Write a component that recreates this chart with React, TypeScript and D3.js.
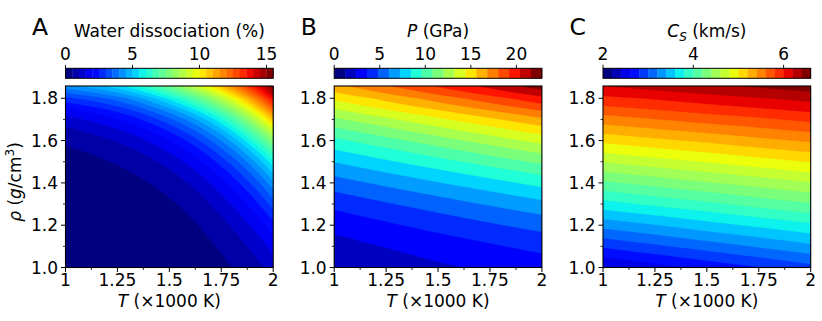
import React from 'react';
import * as d3 from 'd3';

// ---- data ----
const T_GRID = [1.0, 1.25, 1.5, 1.75, 2.0]; // ×1000 K
const RHO_GRID = [1.0, 1.1, 1.2, 1.3, 1.4, 1.5, 1.6, 1.7, 1.8, 1.86]; // g/cm3

// Water dissociation (%) rows = rho, cols = T
const WATER = [
  [0.0059, 0.0232, 0.0916, 0.388, 1.23],
  [0.0128, 0.0438, 0.153, 0.572, 1.7],
  [0.0277, 0.0827, 0.256, 0.845, 2.35],
  [0.0599, 0.156, 0.429, 1.249, 3.25],
  [0.129, 0.295, 0.718, 1.844, 4.4],
  [0.279, 0.556, 1.202, 2.72, 5.9],
  [0.604, 1.049, 2.01, 4.02, 8.0],
  [1.3, 1.98, 3.37, 5.94, 10.8],
  [2.82, 3.74, 5.64, 8.78, 13.8],
  [4.4, 5.4, 7.6, 11.0, 15.5],
];

// Pressure (GPa)
const PRESSURE = [
  [1.4, 1.8, 2.2, 2.6, 3.0],
  [1.95, 2.45, 2.95, 3.45, 3.95],
  [2.8, 3.41, 4.03, 4.64, 5.25],
  [3.95, 4.68, 5.4, 6.13, 6.85],
  [5.45, 6.29, 7.13, 7.96, 8.8],
  [7.25, 8.2, 9.15, 10.1, 11.05],
  [9.3, 10.38, 11.45, 12.53, 13.6],
  [11.75, 12.95, 14.15, 15.35, 16.55],
  [14.6, 15.95, 17.3, 18.65, 20.0],
  [16.5, 17.95, 19.4, 20.85, 22.3],
];

// Sound speed Cs (km/s)
const SOUND = [
  [2.38, 2.52, 2.66, 2.79, 2.93],
  [2.83, 2.96, 3.09, 3.22, 3.35],
  [3.27, 3.39, 3.52, 3.64, 3.76],
  [3.72, 3.84, 3.95, 4.07, 4.18],
  [4.16, 4.27, 4.38, 4.48, 4.59],
  [4.61, 4.71, 4.81, 4.91, 5.01],
  [5.05, 5.15, 5.24, 5.34, 5.43],
  [5.5, 5.59, 5.68, 5.76, 5.85],
  [5.94, 6.02, 6.1, 6.18, 6.26],
  [6.21, 6.29, 6.36, 6.44, 6.51],
];

const X_TICKS = [1, 1.25, 1.5, 1.75, 2];
const X_TICK_LABELS = ['1', '1.25', '1.5', '1.75', '2'];
const X_MINOR = [1.125, 1.375, 1.625, 1.875];
const Y_TICKS = [1.0, 1.2, 1.4, 1.6, 1.8];
const Y_TICK_LABELS = ['1.0', '1.2', '1.4', '1.6', '1.8'];
const Y_MINOR = [1.1, 1.3, 1.5, 1.7];

const WATER_CB_TICKS = [0, 5, 10, 15];
const PRESSURE_CB_TICKS = [0, 5, 10, 15, 20];
const SOUND_CB_TICKS = [2, 4, 6];

// ---- layout ----
const FONT = 'DejaVu Sans, sans-serif';
const PLOT_TOP = 86;
const PLOT_H = 181.5;
const PLOT_W = 207.7;
const PANEL_X = [65.5, 334.2, 603];
const T_MIN = 1, T_MAX = 2, RHO_MIN = 1.0, RHO_MAX = 1.858;
const NX = 208, NY = 182;

function jet(x: number): string {
  const c = (v: number) => Math.max(0, Math.min(1, v));
  let r, g, b;
  if (x < 0.35) r = 0; else if (x < 0.66) r = (x - 0.35) / 0.31; else if (x < 0.89) r = 1; else r = 1 - 0.5 * (x - 0.89) / 0.11;
  if (x < 0.125) g = 0; else if (x < 0.375) g = (x - 0.125) / 0.25; else if (x < 0.64) g = 1; else if (x < 0.91) g = 1 - (x - 0.64) / 0.27; else g = 0;
  if (x < 0.11) b = 0.5 + 0.5 * x / 0.11; else if (x < 0.34) b = 1; else if (x < 0.65) b = 1 - (x - 0.34) / 0.31; else b = 0;
  return d3.rgb(c(r) * 255, c(g) * 255, c(b) * 255).formatHex();
}

function cr(p0: number, p1: number, p2: number, p3: number, t: number) {
  return 0.5 * (2 * p1 + (-p0 + p2) * t + (2 * p0 - 5 * p1 + 4 * p2 - p3) * t * t + (-p0 + 3 * p1 - 3 * p2 + p3) * t * t * t);
}
function locate(arr: number[], v: number): [number, number] {
  let i = 0;
  while (i < arr.length - 2 && v > arr[i + 1]) i++;
  return [i, (v - arr[i]) / (arr[i + 1] - arr[i])];
}
function sample(g: number[][], i: number, j: number): number {
  const nr = g.length, nc = g[0].length;
  const get = (r: number, c: number): number => {
    if (r < 0) return 2 * get(0, c) - get(1, c);
    if (r >= nr) return 2 * get(nr - 1, c) - get(nr - 2, c);
    if (c < 0) return 2 * get(r, 0) - get(r, 1);
    if (c >= nc) return 2 * get(r, nc - 1) - get(r, nc - 2);
    return g[r][c];
  };
  return get(i, j);
}
function interp(g: number[][], T: number, rho: number): number {
  const [ci, ct] = locate(T_GRID, T);
  const [ri, rt] = locate(RHO_GRID, rho);
  const rows: number[] = [];
  for (let dr = -1; dr <= 2; dr++) {
    const r = ri + dr;
    rows.push(cr(sample(g, r, ci - 1), sample(g, r, ci), sample(g, r, ci + 1), sample(g, r, ci + 2), ct));
  }
  return cr(rows[0], rows[1], rows[2], rows[3], rt);
}

interface PanelDef {
  letter: string;
  grid: number[][];
  log: boolean;
  lmin: number;
  step: number;
  n: number;
  cbTicks: number[];
  title: React.ReactNode;
}

const PANELS: PanelDef[] = [
  {
    letter: 'A', grid: WATER, log: true, lmin: 0, step: 0.5, n: 31, cbTicks: WATER_CB_TICKS,
    title: <tspan>Water dissociation (%)</tspan>,
  },
  {
    letter: 'B', grid: PRESSURE, log: false, lmin: 0, step: 1.2, n: 19, cbTicks: PRESSURE_CB_TICKS,
    title: <><tspan fontStyle="italic">P</tspan><tspan> (GPa)</tspan></>,
  },
  {
    letter: 'C', grid: SOUND, log: false, lmin: 2.0, step: 0.2, n: 23, cbTicks: SOUND_CB_TICKS,
    title: <><tspan fontStyle="italic">C</tspan><tspan fontStyle="italic" fontSize={12} dy={4}>S</tspan><tspan dy={-4}> (km/s)</tspan></>,
  },
];

function Panel({ def, x0, idx }: { def: PanelDef; x0: number; idx: number }) {
  const xs = d3.scaleLinear().domain([T_MIN, T_MAX]).range([x0, x0 + PLOT_W]);
  const ys = d3.scaleLinear().domain([RHO_MIN, RHO_MAX]).range([PLOT_TOP + PLOT_H, PLOT_TOP]);
  const lmax = def.lmin + def.step * def.n;
  const colors = d3.range(def.n).map((k) => jet(k / (def.n - 1)));

  const lg = def.log ? def.grid.map((r) => r.map((v) => Math.log(Math.max(v, 1e-4)))) : def.grid;
  const values = new Array(NX * NY);
  for (let j = 0; j < NY; j++) {
    const rho = RHO_MAX - ((j + 0.5) / NY) * (RHO_MAX - RHO_MIN);
    for (let i = 0; i < NX; i++) {
      const T = T_MIN + ((i + 0.5) / NX) * (T_MAX - T_MIN);
      const v = interp(lg, T, rho);
      values[i + j * NX] = def.log ? Math.exp(v) : v;
    }
  }
  const thresholds = d3.range(1, def.n).map((k) => def.lmin + k * def.step);
  const contours = d3.contours().size([NX, NY]).thresholds(thresholds)(values);
  const path = d3.geoPath();
  const sx = PLOT_W / NX, sy = PLOT_H / NY;

  const cb = d3.scaleLinear().domain([def.lmin, lmax]).range([x0, x0 + PLOT_W]);
  const cbTop = 68.3, cbH = 10;
  const clipId = `clip${idx}`;
  const cx = x0 + PLOT_W / 2;

  return (
    <g>
      <defs>
        <clipPath id={clipId}>
          <rect x={x0} y={PLOT_TOP} width={PLOT_W} height={PLOT_H} />
        </clipPath>
      </defs>
      <text x={x0 - 33.5} y={35} fontSize={23.5} fontFamily={FONT}>{def.letter}</text>
      <text x={cx} y={36.7} fontSize={17} fontFamily={FONT} textAnchor="middle">{def.title}</text>
      {colors.map((c, k) => (
        <rect key={k} x={cb(def.lmin + k * def.step)} y={cbTop} width={cb(def.lmin + (k + 1) * def.step) - cb(def.lmin + k * def.step) + 0.3} height={cbH} fill={c} />
      ))}
      <rect x={x0} y={cbTop} width={PLOT_W} height={cbH} fill="none" stroke="#000" strokeWidth={1} />
      {def.cbTicks.map((t) => (
        <g key={t}>
          <line x1={cb(t)} x2={cb(t)} y1={cbTop} y2={cbTop - 3.5} stroke="#000" strokeWidth={0.9} />
          <text x={cb(t)} y={60} fontSize={17} fontFamily={FONT} textAnchor="middle">{t}</text>
        </g>
      ))}
      <g clipPath={`url(#${clipId})`}>
        <rect x={x0} y={PLOT_TOP} width={PLOT_W} height={PLOT_H} fill={colors[0]} />
        <g transform={`translate(${x0},${PLOT_TOP}) scale(${sx},${sy})`}>
          {contours.map((c, k) => (
            <path key={k} d={path(c as any) || ''} fill={colors[k + 1]} stroke={colors[k + 1]} strokeWidth={0.3} />
          ))}
        </g>
      </g>
      <rect x={x0} y={PLOT_TOP} width={PLOT_W} height={PLOT_H} fill="none" stroke="#000" strokeWidth={1.1} />
      {X_TICKS.map((t, k) => (
        <g key={t}>
          <line x1={xs(t)} x2={xs(t)} y1={PLOT_TOP + PLOT_H} y2={PLOT_TOP + PLOT_H + 4.5} stroke="#000" strokeWidth={1} />
          <text x={xs(t)} y={286} fontSize={17} fontFamily={FONT} textAnchor="middle">{X_TICK_LABELS[k]}</text>
        </g>
      ))}
      {X_MINOR.map((t) => (
        <line key={t} x1={xs(t)} x2={xs(t)} y1={PLOT_TOP + PLOT_H} y2={PLOT_TOP + PLOT_H + 2.5} stroke="#000" strokeWidth={0.8} />
      ))}
      <text x={cx} y={306.7} fontSize={17} fontFamily={FONT} textAnchor="middle">
        <tspan fontStyle="italic">T</tspan><tspan> (×1000 K)</tspan>
      </text>
      {Y_TICKS.map((t, k) => (
        <g key={t}>
          <line x1={x0} x2={x0 - 4.5} y1={ys(t)} y2={ys(t)} stroke="#000" strokeWidth={1} />
          <text x={x0 - 7.5} y={ys(t) + 6} fontSize={17} fontFamily={FONT} textAnchor="end">{Y_TICK_LABELS[k]}</text>
        </g>
      ))}
      {Y_MINOR.map((t) => (
        <line key={t} x1={x0} x2={x0 - 2.5} y1={ys(t)} y2={ys(t)} stroke="#000" strokeWidth={0.8} />
      ))}
      {idx === 0 && (
        <text transform={`translate(21,182) rotate(-90)`} fontSize={17} fontFamily={FONT} textAnchor="middle">
          <tspan fontStyle="italic">ρ</tspan><tspan> (</tspan><tspan fontStyle="italic">g</tspan><tspan>/cm</tspan>
          <tspan fontSize={12} dy={-7}>3</tspan><tspan dy={7}>)</tspan>
        </text>
      )}
    </g>
  );
}

export default function App() {
  return (
    <svg width={822} height={321} style={{ position: 'absolute', left: 0, top: 0, background: '#fff' }}>
      <rect width={822} height={321} fill="#fff" />
      {PANELS.map((p, i) => (
        <Panel key={p.letter} def={p} x0={PANEL_X[i]} idx={i} />
      ))}
    </svg>
  );
}
